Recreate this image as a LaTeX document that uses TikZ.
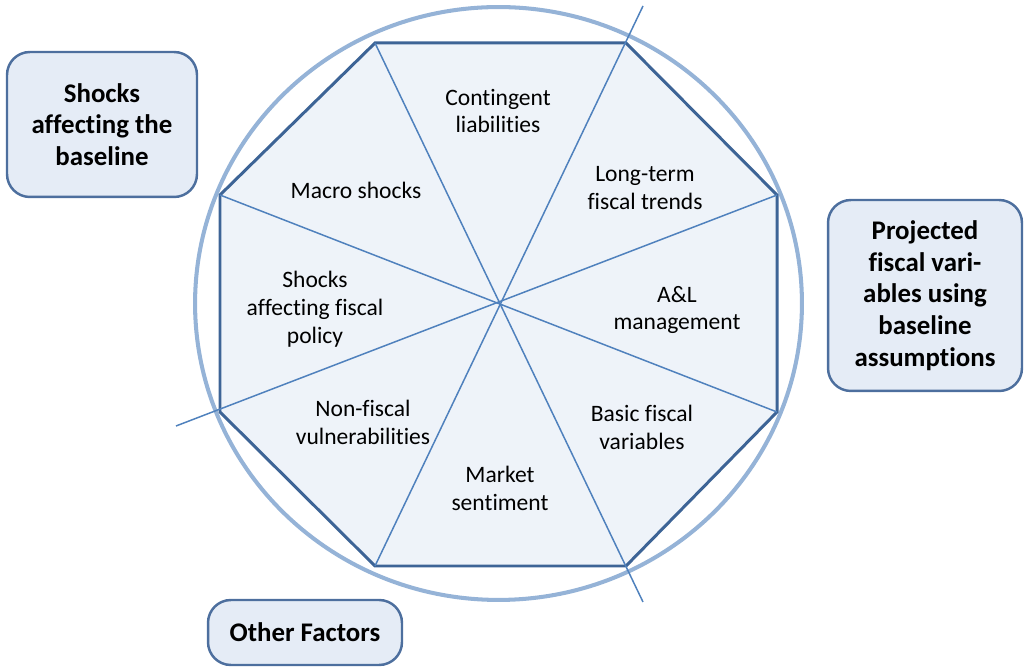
\documentclass[tikz,border=0pt]{standalone}
\usepackage{fontspec}
\setmainfont{Carlito}[Ligatures=NoCommon]
\usepackage{xcolor}

\definecolor{octfill}{HTML}{EEF3F9}
\definecolor{octline}{HTML}{3D6496}
\definecolor{spoke}{HTML}{4F81BD}
\definecolor{ring}{HTML}{95B3D7}
\definecolor{boxfill}{HTML}{E5ECF6}
\definecolor{boxline}{HTML}{4D6F9E}

\tikzset{
	sector/.style={font=\fontsize{13.4}{15.9}\selectfont, align=center, inner sep=0pt},
	factorbox/.style={draw=boxline, line width=1.4pt, fill=boxfill, rounded corners=13pt,
		font=\bfseries\fontsize{15.3}{18.1}\selectfont, align=center, inner sep=0pt},
}

\begin{document}
\begin{tikzpicture}[x=0.02cm,y=-0.02cm]
	\useasboundingbox (0,0) rectangle (1025,671);
	% outer ring
	\coordinate (ctr) at (498.5,303.5);
	\draw[ring, line width=2.3pt] (ctr) ellipse [x radius=6.07cm, y radius=5.93cm];
	% octagon corners, clockwise from top left
	\foreach \name/\px/\py in {c1/375/43, c2/626/43, c3/777/195, c4/777/412,
		c5/626/566, c6/375/566, c7/220/412, c8/220/195}
	{
		\coordinate (\name) at (\px,\py);
	}
	\draw[octline, fill=octfill, line width=1.7pt, line join=miter]
		(c1) -- (c2) -- (c3) -- (c4) -- (c5) -- (c6) -- (c7) -- (c8) -- cycle;
	% spokes, three of them run past the rim
	\coordinate (topend) at (643,6);
	\coordinate (botend) at (643,602);
	\coordinate (leftend) at (176,426);
	\draw[spoke, line width=0.85pt] (topend) -- (c6);
	\draw[spoke, line width=0.85pt] (botend) -- (c1);
	\draw[spoke, line width=0.85pt] (leftend) -- (c3);
	\draw[spoke, line width=0.85pt] (c8) -- (c4);
	% sector labels
	\node[sector] (contingent) at (498,111) {Contingent\\liabilities};
	\node[sector] (longterm) at (645,188) {Long-term\\fiscal trends};
	\node[sector] (alm) at (677,310) {A\&L\\management};
	\node[sector] (basic) at (642,427) {Basic fiscal\\variables};
	\node[sector] (market) at (500,488) {Market\\sentiment};
	\node[sector] (nonfiscal) at (363,422) {Non-fiscal\\vulnerabilities};
	\node[sector] (policy) at (315,309) {Shocks\\affecting fiscal\\policy};
	\node[sector] (macro) at (356,190) {Macro shocks};
	% the three factor boxes
	\node[factorbox, minimum width=3.8cm, minimum height=2.9cm] (baseline) at (102,124.5)
		{Shocks\\affecting the\\baseline};
	\node[factorbox, minimum width=3.88cm, minimum height=3.82cm] (projected) at (925,295.5)
		{Projected\\fiscal vari-\\ables using\\baseline\\assumptions};
	\node[factorbox, minimum width=3.88cm, minimum height=1.3cm] (other) at (305,632.5)
		{Other Factors};
\end{tikzpicture}
\end{document}
